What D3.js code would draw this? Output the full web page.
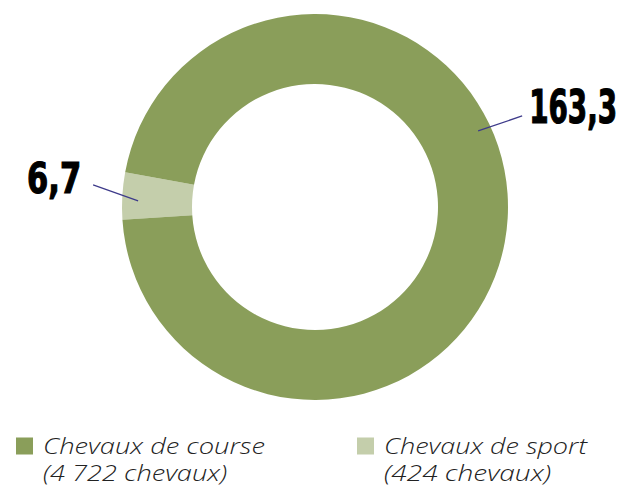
<!DOCTYPE html>
<html><head><meta charset="utf-8">
<script src="https://cdn.jsdelivr.net/npm/d3@7"></script>
<style>body{margin:0;background:#fff}svg{display:block}</style>
</head><body>
<svg id="c" width="622" height="486"></svg>
<script>
const categories = ["Chevaux de sport", "Chevaux de course"];
const values = [6.7, 163.3];
const valueLabels = ["6,7", "163,3"];
const legendNames = ["Chevaux de course", "Chevaux de sport"];
const legendLine1 = ["Chevaux de course", "Chevaux de sport"];
const legendLine2 = ["(4 722 chevaux)", "(424 chevaux)"];
const colors = ["#c4ceab", "#8a9e5a"];

const svg = d3.select("#c");
const cx = 315, cy = 207, rOuter = 193, rInner = 123;
const start = 266.2 * Math.PI / 180;
const pie = d3.pie().sort(null).startAngle(start).endAngle(start + 2 * Math.PI);
const arcs = pie(values);
const arc = d3.arc().innerRadius(rInner).outerRadius(rOuter);
const color = d3.scaleOrdinal().domain(categories).range(colors);

const g = svg.append("g").attr("transform", `translate(${cx},${cy})`);
g.selectAll("path").data(arcs).join("path")
  .attr("d", arc).attr("fill", (d, i) => color(categories[i]));

// leader lines & labels
const labelCfg = [
  {ang: 272, r: 177, dx: -45, dy: -16, anchor: "end", size: 43, tx: -12, ty: 8, w: 54},
  {ang: 65, r: 180, dx: 44, dy: -15, anchor: "start", size: 46, tx: 7, ty: 7, w: 88}
];
arcs.forEach((d, i) => {
  const c = labelCfg[i];
  const a = c.ang * Math.PI / 180;
  const x0 = c.r * Math.sin(a), y0 = -c.r * Math.cos(a);
  const x1 = x0 + c.dx, y1 = y0 + c.dy;
  g.append("line").attr("x1", x0).attr("y1", y0).attr("x2", x1).attr("y2", y1)
    .attr("stroke", "#3d3a8a").attr("stroke-width", 1.2);
  g.append("text")
    .attr("x", x1 + c.tx)
    .attr("y", y1 + c.ty)
    .attr("text-anchor", c.anchor)
    .attr("font-family", "'Liberation Sans Narrow','DejaVu Sans Condensed',sans-serif")
    .attr("font-weight", "bold")
    .attr("font-size", c.size)
    .attr("textLength", c.w)
    .attr("lengthAdjust", "spacingAndGlyphs")
    .attr("stroke", "#000").attr("stroke-width", 1.2)
    .attr("fill", "#000")
    .text(valueLabels[i]);
});

// legend
const lx = d3.scalePoint().domain(legendNames).range([16, 357]);
const widths1 = [222, 203], widths2 = [184, 167];
const lg = svg.append("g");
legendNames.forEach((name, i) => {
  const x = lx(name);
  lg.append("rect").attr("x", x).attr("y", 437.5).attr("width", 17).attr("height", 17)
    .attr("fill", color(name));
  [[legendLine1[i], 454, widths1[i]], [legendLine2[i], 481, widths2[i]]].forEach(([txt, y, w]) => {
    lg.append("text").attr("font-family", "'Open Sans', sans-serif")
      .attr("font-style", "italic").attr("font-weight", 300)
      .attr("font-size", 21.5).attr("fill", "#222")
      .attr("x", x + 27).attr("y", y)
      .attr("textLength", w).attr("lengthAdjust", "spacingAndGlyphs")
      .text(txt);
  });
});
</script>
</body></html>
